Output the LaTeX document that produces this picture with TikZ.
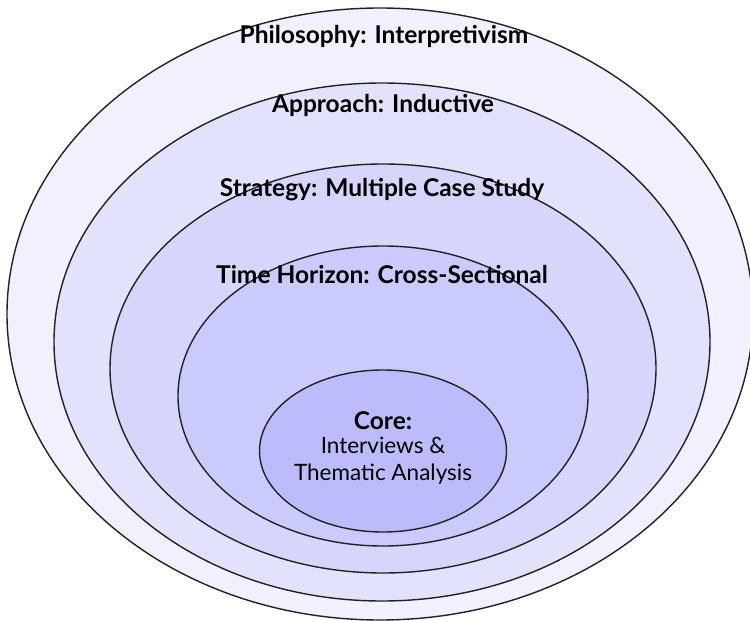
\documentclass[tikz,border=0pt]{standalone}
\usepackage{fontspec}
\setmainfont{Lato}
\usetikzlibrary{shapes.geometric}
\definecolor{ringA}{RGB}{240,240,254}
\definecolor{ringB}{RGB}{226,226,253}
\definecolor{ringC}{RGB}{214,214,252}
\definecolor{ringD}{RGB}{202,202,252}
\definecolor{ringE}{RGB}{188,188,252}
\definecolor{edge}{RGB}{34,34,34}
\tikzset{
  ring/.style={ellipse, draw=edge, line width=1.4pt, inner sep=0pt},
  layer/.style={font=\fontsize{24.5}{28}\selectfont\bfseries, text=black, inner sep=0pt},
  corebody/.style={font=\fontsize{22.5}{27}\selectfont, text=black, align=center, inner sep=0pt}
}
\begin{document}
\begin{tikzpicture}[x=1pt,y=-1pt]
  \useasboundingbox (0,0) rectangle (750,621);
  \fill[white] (0,0) rectangle (750,621);
  % nested rings, outermost first
  \node[ring, fill=ringA, minimum width=746pt, minimum height=612pt] (philo) at (380,314) {};
  \node[ring, fill=ringB, minimum width=656pt, minimum height=518pt] (appr) at (382,342) {};
  \node[ring, fill=ringC, minimum width=546pt, minimum height=409pt] (strat) at (383,368.5) {};
  \node[ring, fill=ringD, minimum width=410pt, minimum height=300pt] (time) at (383,396) {};
  \node[ring, fill=ringE, minimum width=247pt, minimum height=162pt] (core) at (383,451) {};
  % layer labels
  \node[layer] (philoLabel) at (384,36) {Philosophy: Interpretivism};
  \node[layer] (apprLabel) at (383,105) {Approach: Inductive};
  \node[layer] (stratLabel) at (382,190) {Strategy: Multiple Case Study};
  \node[layer] (timeLabel) at (382,274) {Time Horizon: Cross-Sectional};
  \node[layer] (coreLabel) at (383,421) {Core:};
  \node[corebody] (coreText) at (383,461) {Interviews \&\\Thematic Analysis};
\end{tikzpicture}
\end{document}
